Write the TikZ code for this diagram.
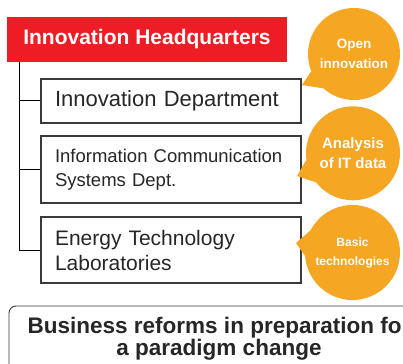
\documentclass[tikz,border=0pt]{standalone}
\usepackage{fontspec}
\setmainfont{Liberation Sans}
\definecolor{hqred}{HTML}{EE1C25}
\definecolor{bubbleorange}{HTML}{F5A623}
\definecolor{boxgray}{HTML}{3A3A3A}
\definecolor{textgray}{HTML}{262626}
\begin{document}
\begin{tikzpicture}[x=1pt,y=-1pt,
  hq/.style={fill=hqred, text=white, font=\bfseries\fontsize{21}{25}\selectfont,
    minimum width=280pt, minimum height=45pt, inner sep=0pt},
  dept/.style={draw=boxgray, line width=1.1pt, fill=white, minimum width=260pt,
    text width=232pt, inner xsep=14pt, inner ysep=0pt, align=left, text=textgray},
  bubble/.style={circle, fill=bubbleorange, text=white, inner sep=0pt, align=center},
  trunk/.style={draw=black, line width=1pt},
  reformbox/.style={draw=boxgray, line width=0.9pt, rounded corners=7pt, minimum width=420pt,
    minimum height=65pt, align=center, text=textgray, inner sep=0pt,
    font=\bfseries\fontsize{22.5}{22}\selectfont}
]
\useasboundingbox (0,0) rectangle (403,363);
\clip (0,0) rectangle (403,363);

% headquarters
\node[hq] (hq) at (147,39.5) {Innovation Headquarters};

% departments
\node[dept, minimum height=44pt, font=\fontsize{22}{26}\selectfont] (d1) at (171,101) {Innovation Department};
\node[dept, minimum height=67pt, font=\fontsize{18.5}{24}\selectfont] (d2) at (171,169.5) {Information Communication\\Systems Dept.};
\node[dept, minimum height=66pt, font=\fontsize{21}{25}\selectfont] (d3) at (171,250) {Energy Technology\\Laboratories};

% trunk lines
\coordinate (top) at ([xshift=13pt]hq.south west);
\draw[trunk] (top) |- (d3.west);
\draw[trunk] (top |- d1.west) -- (d1.west);
\draw[trunk] (top |- d2.west) -- (d2.west);

% bubbles
\node[bubble, minimum size=92pt, font=\bfseries\fontsize{13.5}{20}\selectfont] (c1) at (354,54) {Open\\innovation};
\node[bubble, minimum size=94pt, font=\bfseries\fontsize{15}{20}\selectfont] (c2) at (353,153.3) {Analysis\\of IT data};
\node[bubble, minimum size=95pt, font=\bfseries\fontsize{12}{19}\selectfont] (c3) at (352.5,252.5) {Basic\\technologies};

% tails
\coordinate (t1) at (302,85);
\coordinate (t2) at (297,176);
\coordinate (t3) at (296,243);
\fill[bubbleorange] (t1) -- (c1.202) -- (c1.228) -- cycle;
\fill[bubbleorange] (t2) -- (c2.188) -- (c2.218) -- cycle;
\fill[bubbleorange] (t3) -- (c3.153) -- (c3.184) -- cycle;

% bottom box
\node[reformbox] (reform) at (219,338.5) {Business reforms in preparation for\\a paradigm change};
\end{tikzpicture}
\end{document}
